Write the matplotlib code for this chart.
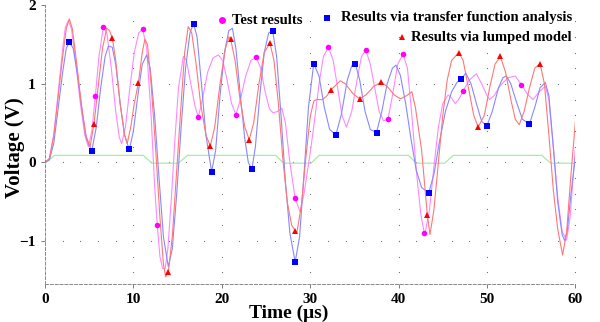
import numpy as np
import matplotlib.pyplot as plt

# test results (magenta)
t_test = [0, 0.5, 1.0, 1.5, 2.0, 2.3, 2.64, 3.0, 3.5, 4.0, 4.5, 4.9, 5.3, 5.7, 6.1, 6.6, 7.0, 7.5, 8.0, 8.4,
          8.67, 9.1, 9.6, 10.1, 10.6, 11.05, 11.5, 12.0, 12.4, 12.7, 13.0, 13.3, 13.6, 13.9, 14.3, 14.7, 15.1,
          15.65, 16.0, 16.5, 17.0, 17.35, 17.8, 18.4, 19.0, 19.6, 20.1, 20.6, 21.1, 21.6, 22.1, 22.7, 23.3,
          23.9, 24.4, 24.9, 25.4, 25.8, 26.3, 26.8, 27.2, 27.7, 28.3, 28.85, 29.3, 29.7, 30.0, 30.5, 31.0,
          31.5, 32.05, 32.6, 33.1, 33.6, 34.1, 34.7, 35.3, 35.8, 36.3, 36.8, 37.3, 37.8, 38.3, 38.8, 39.3,
          39.9, 40.5, 41.0, 41.5, 42.0, 42.5, 42.9, 43.0, 43.5, 44.0, 44.5, 45.0, 45.6, 46.0, 46.4, 46.8,
          47.3, 48.0, 48.8, 49.4, 50.0, 50.3, 50.8, 51.5, 52.4, 53.2, 53.9, 54.5, 55.2, 55.9, 56.6, 57.0,
          57.5, 58.0, 58.5, 59.0, 59.4, 60.0]
v_test = [0, 0.05, 0.35, 0.9, 1.45, 1.72, 1.81, 1.7, 1.25, 0.75, 0.35, 0.2, 0.4, 0.85, 1.35, 1.72, 1.65, 1.2,
          0.65, 0.32, 0.24, 0.45, 0.95, 1.4, 1.65, 1.70, 1.45, 0.6, -0.3, -0.8, -1.2, -1.35, -1.35, -1.1,
          -0.45, 0.3, 0.95, 1.35, 1.3, 1.0, 0.7, 0.58, 0.8, 1.15, 1.33, 1.37, 1.3, 1.05, 0.75, 0.61, 0.8,
          1.1, 1.3, 1.34, 1.2, 0.9, 0.68, 0.63, 0.65, 0.69, 0.5, 0.0, -0.46, -0.63, -0.4, -0.1, 0.12, 0.54,
          1.0, 1.35, 1.47, 1.3, 0.95, 0.6, 0.45, 0.65, 1.05, 1.35, 1.43, 1.25, 0.95, 0.65, 0.53, 0.55, 0.85,
          1.25, 1.38, 1.2, 0.6, -0.1, -0.65, -0.9, -0.9, -0.6, -0.05, 0.45, 0.75, 0.86, 0.82, 0.75, 0.8,
          0.91, 1.05, 1.13, 1.0, 0.85, 0.8, 0.85, 0.98, 1.08, 1.10, 0.99, 0.88, 0.8, 0.9, 0.97, 0.8,
          0.2, -0.45, -0.88, -0.99, -0.7, 0.2]

# transfer function analysis (blue)
t_tf = [0, 0.5, 1.0, 1.5, 2.0, 2.4, 2.75, 3.2, 3.7, 4.2, 4.7, 5.28, 5.8, 6.3, 6.8, 7.17, 7.6, 8.0, 8.5, 9.0,
        9.54, 10.0, 10.5, 11.0, 11.5, 11.9, 12.4, 12.9, 13.4, 13.95, 14.4, 14.9, 15.4, 15.9, 16.4, 16.8,
        17.2, 17.7, 18.2, 18.85, 19.3, 19.8, 20.3, 20.8, 21.2, 21.6, 22.1, 22.6, 23.0, 23.4, 23.8, 24.3,
        24.8, 25.3, 25.75, 26.2, 26.7, 27.2, 27.7, 28.3, 28.8, 29.3, 29.8, 30.4, 31.0, 31.6, 32.2, 32.9,
        33.5, 34.2, 34.7, 35.1, 35.6, 36.2, 36.8, 37.5, 38.1, 38.7, 39.3, 39.7, 40.2, 40.8, 41.4, 42.0,
        42.6, 43.4, 44.0, 44.6, 45.3, 46.0, 46.6, 47.1, 47.6, 48.2, 48.8, 49.4, 50.0, 50.6, 51.3, 51.8,
        52.2, 52.7, 53.3, 54.0, 54.8, 55.4, 56.0, 56.6, 57.0, 57.5, 58.0, 58.5, 58.8, 59.1, 59.5, 60.0]
v_tf = [0, 0.03, 0.25, 0.7, 1.15, 1.45, 1.54, 1.45, 1.1, 0.65, 0.3, 0.14, 0.45, 0.95, 1.35, 1.48, 1.47,
        1.25, 0.75, 0.35, 0.16, 0.4, 0.85, 1.25, 1.37, 1.2, 0.6, -0.2, -0.95, -1.33, -1.1, -0.4, 0.45, 1.2,
        1.65, 1.77, 1.6, 1.0, 0.35, -0.12, 0.15, 0.85, 1.4, 1.68, 1.71, 1.45, 0.85, 0.3, 0.0, -0.09, 0.2,
        0.85, 1.4, 1.65, 1.68, 1.35, 0.6, -0.25, -0.9, -1.27, -0.95, -0.15, 0.7, 1.26, 1.1, 0.7, 0.42,
        0.35, 0.6, 1.05, 1.23, 1.26, 1.05, 0.65, 0.42, 0.38, 0.65, 1.0, 1.2, 1.24, 1.11, 0.75, 0.3, -0.1,
        -0.32, -0.39, -0.15, 0.25, 0.65, 0.9, 1.02, 1.06, 1.14, 1.0, 0.75, 0.52, 0.47, 0.65, 0.95, 1.08,
        1.10, 1.0, 0.78, 0.55, 0.49, 0.7, 0.95, 1.02, 0.85, 0.2, -0.5, -0.92, -1.0, -0.85, -0.4, 0.07]

# lumped model (red)
t_lm = [0, 0.5, 1.0, 1.5, 2.0, 2.4, 2.75, 3.1, 3.6, 4.1, 4.6, 5.1, 5.54, 6.0, 6.5, 6.98, 7.3, 7.62, 8.0,
        8.5, 9.0, 9.3, 9.7, 10.1, 10.56, 11.0, 11.3, 11.6, 12.0, 12.5, 13.0, 13.4, 13.65, 13.95, 14.4,
        14.9, 15.4, 15.8, 16.2, 16.6, 17.1, 17.6, 18.2, 18.7, 19.2, 19.8, 20.4, 20.8, 21.0, 21.5, 22.0,
        22.6, 23.1, 23.6, 24.2, 24.8, 25.45, 25.9, 26.4, 26.9, 27.4, 27.9, 28.3, 28.5, 29.0, 29.5, 30.0,
        30.4, 30.7, 31.4, 31.9, 32.3, 33.4, 34.0, 34.8, 35.6, 36.3, 37.2, 38.0, 38.7, 39.5, 40.2, 40.9,
        41.5, 41.9, 42.6, 43.25, 43.55, 44.0, 44.5, 45.0, 45.5, 46.0, 46.8, 47.3, 47.9, 48.5, 49.0, 49.7,
        50.3, 50.9, 51.5, 52.1, 52.7, 53.2, 53.65, 54.2, 54.8, 55.4, 56.0, 56.5, 57.0, 57.5, 58.0, 58.55,
        59.0, 59.5, 60.0]
v_lm = [0, 0.05, 0.35, 0.85, 1.35, 1.7, 1.83, 1.7, 1.25, 0.75, 0.35, 0.2, 0.49, 0.95, 1.45, 1.71, 1.68,
        1.58, 1.3, 0.75, 0.35, 0.24, 0.45, 0.75, 1.01, 1.4, 1.57, 1.5, 1.0, 0.2, -0.7, -1.3, -1.46, -1.40,
        -0.95, -0.1, 0.75, 1.4, 1.73, 1.65, 1.25, 0.75, 0.35, 0.21, 0.45, 1.0, 1.45, 1.6, 1.57, 1.3, 0.85,
        0.45, 0.29, 0.5, 1.0, 1.4, 1.52, 1.3, 0.75, 0.05, -0.5, -0.8, -0.87, -0.89, -0.55, 0.05, 0.58, 0.78,
        0.8, 0.8, 0.85, 0.92, 1.04, 1.0, 0.88, 0.81, 0.86, 0.97, 1.02, 0.97, 0.86, 0.81, 0.85, 0.9, 0.7,
        0.16, -0.67, -0.92, -0.6, 0.0, 0.6, 1.05, 1.3, 1.40, 1.3, 0.95, 0.6, 0.45, 0.6, 0.95, 1.25, 1.35,
        1.15, 0.8, 0.55, 0.48, 0.65, 0.95, 1.2, 1.26, 1.0, 0.35, -0.35, -0.85, -1.18, -0.9, -0.15, 0.52]

# input pulse (green)
t_in = [0, 1.1, 11.1, 12.1, 15.1, 16.1, 26.1, 27.0, 30.1, 31.0, 41.1, 42.0, 45.2, 46.2, 56.2, 57.2, 60]
v_in = [-0.01, 0.09, 0.09, -0.01, -0.01, 0.09, 0.09, -0.01, -0.01, 0.09, 0.09, -0.01, -0.01, 0.09, 0.09, -0.01, -0.01]

# marker points
mt_test = [5.7, 6.6, 11.05, 12.7, 17.35, 21.6, 23.9, 28.3, 32.05, 36.3, 38.8, 40.5, 42.9, 47.3, 53.9]
mv_test = [0.85, 1.72, 1.70, -0.80, 0.58, 0.61, 1.34, -0.46, 1.47, 1.43, 0.55, 1.38, -0.90, 0.91, 0.99]
mt_tf = [2.75, 5.28, 9.54, 16.8, 18.85, 23.4, 25.75, 28.3, 30.4, 32.9, 35.1, 37.5, 43.4, 47.1, 50.0, 54.8]
mv_tf = [1.54, 0.14, 0.17, 1.77, -0.12, -0.09, 1.68, -1.27, 1.26, 0.35, 1.26, 0.38, -0.39, 1.06, 0.47, 0.49]
mt_lm = [5.54, 7.62, 10.56, 13.95, 18.7, 21.0, 23.1, 25.45, 28.3, 32.3, 35.6, 38.0, 43.25, 46.8, 49.0, 51.5, 56.0]
mv_lm = [0.49, 1.58, 1.01, -1.40, 0.21, 1.57, 0.29, 1.52, -0.87, 0.92, 0.81, 1.02, -0.67, 1.40, 0.45, 1.35, 1.26]

plt.rcParams['font.family'] = ['Liberation Serif', 'DejaVu Serif']
plt.rcParams['font.weight'] = 'bold'

fig = plt.figure(figsize=(6, 3.22), dpi=100)
ax = fig.add_axes([0.075, 0.118, 0.884, 0.865])

# dotted grid
for xv in range(10, 61, 10):
    gy = np.arange(-1.4, 1.95, 0.2)
    ax.plot([xv] * len(gy), gy, ls='none', marker='s', ms=0.8, color='#777777', mew=0)
for yv in [-1, 0, 1]:
    gx = np.arange(2, 59.9, 2)
    ax.plot(gx, [yv] * len(gx), ls='none', marker='s', ms=0.8, color='#777777', mew=0)

ax.plot(t_in, v_in, color='#99ee99', lw=0.8)
ax.plot(t_test, v_test, color='#ff88ff', lw=0.8)
ax.plot(t_tf, v_tf, color='#8888ff', lw=0.8)
ax.plot(t_lm, v_lm, color='#ff7777', lw=0.8)
ax.plot(mt_test, mv_test, ls='none', marker='o', ms=4, color='#ff00ff', mew=0)
ax.plot(mt_tf, mv_tf, ls='none', marker='s', ms=3.8, color='#0000ff', mew=0)
ax.plot(mt_lm, mv_lm, ls='none', marker='^', ms=4, color='#ff0000', mew=0)

ax.set_xlim(0, 60)
ax.set_ylim(-1.55, 2)
ax.set_xticks([0, 10, 20, 30, 40, 50, 60])
ax.set_yticks([-1, 0, 1, 2])
ax.tick_params(labelsize=11, length=3, width=0.6, color='#666666')
for s in ['top', 'right']:
    ax.spines[s].set_visible(False)
for s in ['left', 'bottom']:
    ax.spines[s].set_linestyle((0, (3, 2)))
    ax.spines[s].set_color('#888888')
    ax.spines[s].set_linewidth(0.7)
ax.set_xlabel('Time (μs)', fontsize=14, fontweight='bold')
ax.xaxis.set_label_coords(0.46, -0.075)
ax.set_ylabel('Voltage (V)', fontsize=15, fontweight='bold')
ax.yaxis.set_label_coords(-0.038, 0.49)

# legend
def fx(px):
    return px / 600
def fy(py):
    return 1 - py / 322

fig.lines.append(plt.Line2D([fx(222)], [fy(20)], marker='o', ms=5, color='#ff00ff', mew=0, transform=fig.transFigure))
fig.text(fx(232), fy(20), 'Test results', fontsize=10.5, fontweight='bold', va='center')
fig.lines.append(plt.Line2D([fx(327)], [fy(18)], marker='s', ms=4.5, color='#0000ff', mew=0, transform=fig.transFigure))
fig.text(fx(572), fy(18), 'Results via transfer function analysis', fontsize=10.5, fontweight='bold', va='center', ha='right')
fig.lines.append(plt.Line2D([fx(402)], [fy(37)], marker='^', ms=5, color='#ff0000', mew=0, transform=fig.transFigure))
fig.text(fx(572), fy(37), 'Results via lumped model', fontsize=10.5, fontweight='bold', va='center', ha='right')

fig.savefig('out.png', dpi=100)
